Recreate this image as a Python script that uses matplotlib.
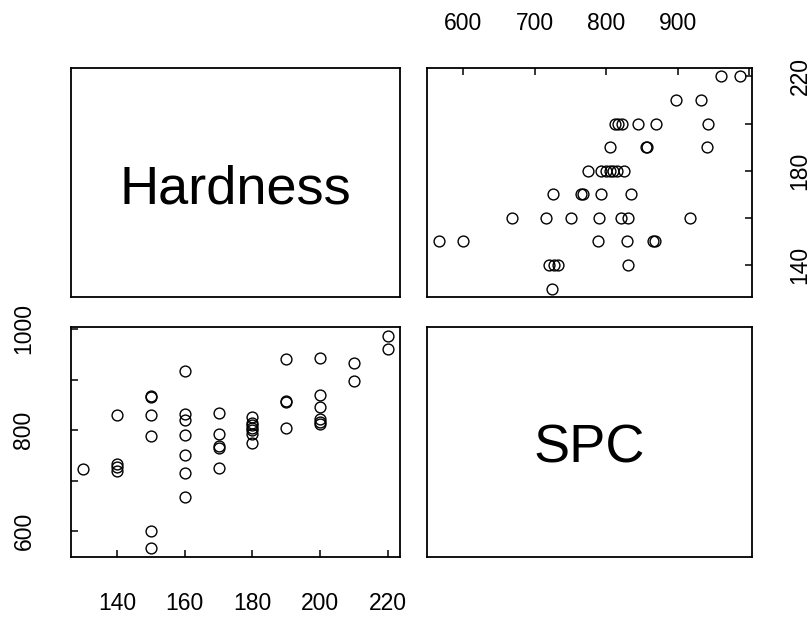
import matplotlib
matplotlib.use("Agg")
import matplotlib.pyplot as plt

plt.rcParams['font.family'] = ['Liberation Sans', 'DejaVu Sans']

# Paired observations: hardness and SPC
hardness = [130,
            140, 140, 140, 140,
            150, 150, 150, 150, 150, 150,
            160, 160, 160, 160, 160, 160, 160,
            170, 170, 170, 170, 170,
            180, 180, 180, 180, 180, 180, 180,
            190, 190, 190, 190,
            200, 200, 200, 200, 200, 200,
            210, 210,
            220, 220]
spc = [724,
       720, 727, 733, 830,
       566, 600, 789, 829, 865, 868,
       668, 715, 750, 790, 820, 831, 917,
       725, 765, 768, 792, 834,
       775, 792, 800, 805, 810, 815, 825,
       805, 855, 857, 941,
       812, 817, 822, 845, 869, 942,
       898, 932,
       960, 987]

var_names = ["Hardness", "SPC"]
hard_ticks = [140, 160, 180, 200, 220]
hard_labels = ["140", "160", "180", "200", "220"]
hard_right_labels = ["140", "", "180", "", "220"]
spc_ticks = [600, 700, 800, 900, 1000]
spc_left_labels = ["600", "", "800", "", "1000"]
spc_top_labels = ["600", "700", "800", "900", ""]


def padded(vals, frac=0.04):
    lo, hi = min(vals), max(vals)
    r = hi - lo
    return lo - frac * r, hi + frac * r


W, H = 812, 619
fig = plt.figure(figsize=(W / 100, H / 100), dpi=100)
fig.patch.set_facecolor("white")


def panel(l, t, r, b):
    return fig.add_axes([l / W, (H - b) / H, (r - l) / W, (b - t) / H])


ax_tl = panel(71, 68, 400, 297)
ax_tr = panel(427, 68, 752, 297)
ax_bl = panel(71, 327, 400, 557)
ax_br = panel(427, 327, 752, 557)

hlim = padded(hardness)
slim = padded(spc)

for ax in (ax_tl, ax_tr, ax_bl, ax_br):
    for sp in ax.spines.values():
        sp.set_linewidth(1.3)
        sp.set_color("black")
    ax.tick_params(direction="in", length=5, width=1.1,
                   labelbottom=False, labelleft=False,
                   labeltop=False, labelright=False,
                   bottom=False, left=False, top=False, right=False)

# Diagonal panels with variable names
for ax, name in ((ax_tl, var_names[0]), (ax_br, var_names[1])):
    ax.set_xlim(0, 1)
    ax.set_ylim(0, 1)
    ax.set_xticks([])
    ax.set_yticks([])
    ax.text(0.5, 0.47, name, ha="center", va="center", fontsize=39,
            transform=ax.transAxes)

mk = dict(marker="o", linestyle="none", markersize=7.8,
          markerfacecolor="none", markeredgecolor="black",
          markeredgewidth=1.0)

# Upper right: SPC (x) vs Hardness (y)
ax_tr.plot(spc, hardness, **mk)
ax_tr.set_xlim(*slim)
ax_tr.set_ylim(*hlim)
ax_tr.set_xticks(spc_ticks)
ax_tr.set_yticks(hard_ticks)
ax_tr.tick_params(top=True, right=True)
for v, lab in zip(spc_ticks, spc_top_labels):
    ax_tr.text(v, 1.195, lab, ha="center", va="center", fontsize=16.5,
               transform=ax_tr.get_xaxis_transform())
for v, lab in zip(hard_ticks, hard_right_labels):
    ax_tr.text(1.148, v, lab, ha="center", va="center", fontsize=16.5,
               rotation=90, transform=ax_tr.get_yaxis_transform())

# Lower left: Hardness (x) vs SPC (y)
ax_bl.plot(hardness, spc, **mk)
ax_bl.set_xlim(*hlim)
ax_bl.set_ylim(*slim)
ax_bl.set_xticks(hard_ticks)
ax_bl.set_yticks(spc_ticks)
ax_bl.tick_params(bottom=True, left=True)
for v, lab in zip(hard_ticks, hard_labels):
    ax_bl.text(v, -0.20, lab, ha="center", va="center", fontsize=16.5,
               transform=ax_bl.get_xaxis_transform())
for v, lab in zip(spc_ticks, spc_left_labels):
    ax_bl.text(-0.143, v, lab, ha="center", va="center", fontsize=16.5,
               rotation=90, transform=ax_bl.get_yaxis_transform())

fig.savefig("out.png", dpi=100, facecolor="white")
